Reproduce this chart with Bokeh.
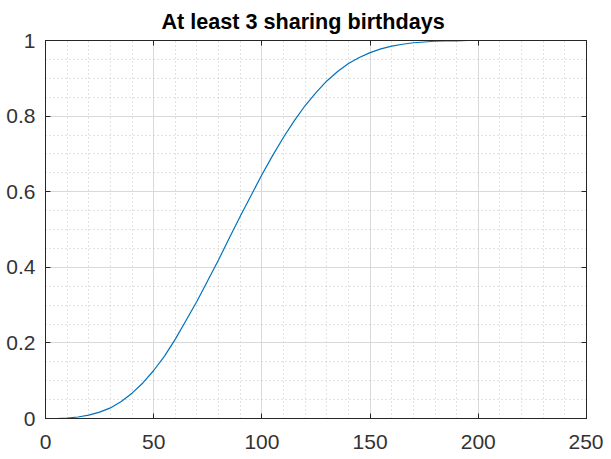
from bokeh.plotting import figure
from bokeh.models import FixedTicker, LinearAxis, Range1d, CustomJSTickFormatter
from bokeh.embed import file_html
from bokeh.resources import INLINE

# ---- data ----
group_size = [1, 5, 10, 15, 20, 25, 30, 35, 40, 45, 50, 55, 60, 65, 70, 75, 80,
              85, 90, 95, 100, 105, 110, 115, 120, 125, 130, 135, 140, 145, 150,
              155, 160, 165, 170, 175, 180, 185, 190, 195, 200, 205, 210, 215, 220]
p_three = [0.0, 0.0, 0.001, 0.004, 0.009, 0.017, 0.028, 0.045, 0.067, 0.094,
           0.127, 0.165, 0.21, 0.26, 0.31, 0.365, 0.42, 0.478, 0.535, 0.59,
           0.645, 0.696, 0.744, 0.788, 0.828, 0.862, 0.893, 0.918, 0.939, 0.955,
           0.968, 0.978, 0.985, 0.990, 0.994, 0.996, 0.998, 0.999, 0.999, 1.0,
           1.0, 1.0, 1.0, 1.0, 1.0]

x_ticks = [0, 50, 100, 150, 200, 250]
x_minor_ticks = list(range(0, 251, 10))
y_ticks = [0, 0.2, 0.4, 0.6, 0.8, 1]
y_tick_labels = ["0", "0.2", "0.4", "0.6", "0.8", "1"]
y_minor_ticks = [round(i * 0.05, 2) for i in range(21)]
title_text = "At least 3 sharing birthdays"

AX = "#262626"
FONT = "Liberation Sans"

p = figure(width=603, height=451,
           x_range=Range1d(0, 250), y_range=Range1d(0, 1),
           output_backend="svg", toolbar_location=None,
           min_border_left=45, min_border_right=17,
           min_border_top=38, min_border_bottom=30,
           background_fill_color="white", border_fill_color="white",
           outline_line_color=AX, outline_line_alpha=1.0)

p.title.text = title_text
p.title.align = "left"
p.title.offset = 116
p.title.standoff = 13
p.title.text_font = FONT
p.title.text_font_size = "21.6px"
p.title.text_font_style = "bold"
p.title.text_color = "black"

p.xaxis.ticker = FixedTicker(ticks=x_ticks, minor_ticks=x_minor_ticks)
p.yaxis.ticker = FixedTicker(ticks=y_ticks, minor_ticks=y_minor_ticks)
p.yaxis.major_label_overrides = dict(zip(y_ticks, y_tick_labels))

for ax in (p.xaxis[0], p.yaxis[0]):
    ax.axis_line_color = AX
    ax.major_tick_line_color = AX
    ax.major_tick_in = 5
    ax.major_tick_out = 0
    ax.minor_tick_in = 0
    ax.minor_tick_out = 0
    ax.major_label_text_font = FONT
    ax.major_label_text_font_size = "21px"
    ax.major_label_text_color = "#333333"
p.xaxis.major_label_standoff = 16
p.xaxis.major_label_text_line_height = 0.5
p.yaxis.major_label_standoff = 10

# box ticks on top and right
blank = CustomJSTickFormatter(code="return ''")
top = LinearAxis(ticker=FixedTicker(ticks=x_ticks), formatter=blank,
                 major_label_text_font_size="1px", major_label_standoff=0,
                 major_tick_in=5, major_tick_out=0, minor_tick_in=0, minor_tick_out=0,
                 axis_line_color=AX, major_tick_line_color=AX)
right = LinearAxis(ticker=FixedTicker(ticks=y_ticks), formatter=blank,
                   major_label_text_font_size="1px", major_label_standoff=0,
                   major_tick_in=5, major_tick_out=0, minor_tick_in=0, minor_tick_out=0,
                   axis_line_color=AX, major_tick_line_color=AX)
p.add_layout(top, "above")
p.add_layout(right, "right")

p.grid.grid_line_color = "#d9d9d9"
p.grid.grid_line_alpha = 1.0
p.grid.minor_grid_line_color = "#c4c4c4"
p.grid.minor_grid_line_dash = "1 3"

p.line(group_size, p_three, line_color="#0072BD", line_width=1.2)

open("out.html", "w").write(file_html(p, INLINE))
